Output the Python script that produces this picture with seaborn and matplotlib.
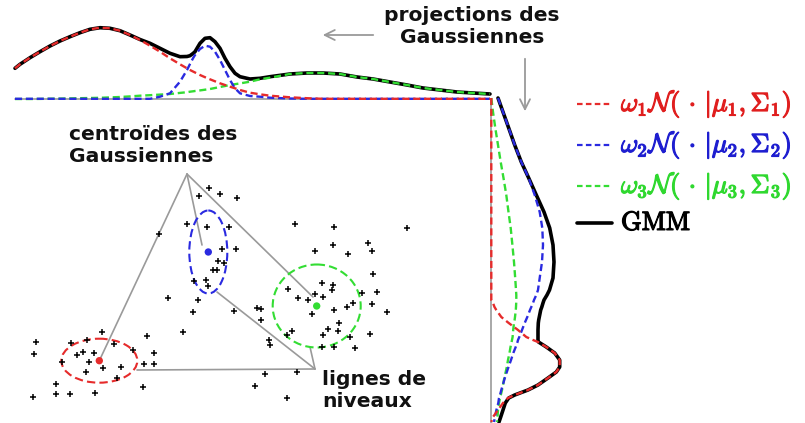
import numpy as np
import pandas as pd
import matplotlib
matplotlib.use("Agg")
import matplotlib.pyplot as plt
import matplotlib.patheffects as pe
from matplotlib.patches import Ellipse
from matplotlib.lines import Line2D
import seaborn as sns

sns.set_theme(style="white")
plt.rcParams['font.family'] = ['DejaVu Sans']
plt.rcParams['mathtext.fontset'] = 'cm'

# ---------------- data (pixel-like units) ----------------
# scatter sample
pts_x = [209.3, 199, 220, 236.7, 158.7, 187.3, 206.7, 229.3, 295, 334.3, 407.3, 221.7, 236,
         315, 332.7, 367.7, 372.3, 348.3, 218.3, 224.3, 212.7, 217.3, 373.3, 194, 205.7, 208.3,
         322.3, 333.3, 331.7, 288.3, 362.3, 376.7, 167.7, 198.3, 297.7, 308.3, 315, 323.3,
         352.7, 371.7, 347.3, 334.3, 312.3, 192.7, 234.3, 256.7, 261.3, 260.7, 387.3, 339,
         337.7, 328.3, 182.7, 291.7, 286.7, 323.3, 350, 370, 269.3, 270, 321.7, 334.3, 355,
         36, 34.3, 70.7, 87.3, 102.3, 114.3, 147.3, 133.3, 76.7, 82.7, 94.3, 62, 89.3, 103.3,
         120.7, 86, 144, 154, 154.3, 116.7, 56, 56, 70, 95, 33.3, 142.7, 265, 296.7, 255, 286.7]
pts_y = [188.3, 196, 194.3, 197.7, 234, 224.3, 227.3, 226.7, 224.3, 227.3, 228.3, 249.3, 249.3,
         250.7, 245, 242.7, 250.7, 254.3, 260.7, 263.3, 270, 270, 274, 281, 280, 286,
         282.7, 285, 290, 289, 293.3, 291.7, 297.7, 300, 297.7, 300, 294.3, 297.3,
         302.7, 304, 306.7, 310, 314, 311.7, 311, 308.3, 309, 320, 311.7, 323.3,
         331, 329.3, 331.7, 330.7, 335, 335, 336.7, 334, 340, 345, 347.3, 347.3, 348.3,
         341.7, 354, 343.3, 340, 331.7, 344.3, 336, 350, 355, 351.7, 353.3, 361.7, 361.7, 367.7,
         367.3, 372.3, 364, 353.3, 364, 378.3, 384, 394, 394, 393.3, 397.3, 386.7, 374, 372.3, 385.7, 398.3]

# Gaussian centroids and level-line sizes
comp_names = ["red", "blue", "green"]
cent_x = [99.3, 208.3, 316.7]
cent_y = [360.7, 252.0, 306.0]
ell_w = [76, 38, 88]
ell_h = [44, 83, 83]

# top projection (x positions, curve y values)
top_x = [15, 20, 30, 40, 50, 60, 70, 80, 90, 100, 110, 120, 130, 140, 150, 160, 170, 180, 187,
         190, 193, 195, 200, 205, 210, 215, 220, 225, 230, 235, 240, 250, 260, 270, 290, 307,
         323, 340, 357, 373, 390, 407, 423, 440, 457, 473, 490]
top_red = [68.3, 64.3, 57.7, 51.7, 46, 41, 36.7, 32.7, 29.3, 27.7, 28.3, 30.7, 35, 40, 45.7, 51.7,
           58.3, 64.3, 68.3, 70, 71.5, 72.5, 75, 77.2, 79.3, 81.3, 83.3, 85, 86.7, 88.3, 90, 92.7,
           94.3, 95.7, 97.3, 98.2, 98.8, 98.8, 98.8, 98.8, 98.8, 98.8, 98.8, 98.8, 98.8, 98.8, 98.8]
top_blue = [98.8, 98.8, 98.8, 98.8, 98.8, 98.8, 98.8, 98.8, 98.8, 98.8, 98.8, 98.8, 98.8, 98.8,
            98.8, 96.7, 93.3, 81.7, 70, 64, 58.3, 55, 49, 45.7, 46.7, 51.7, 60, 70, 80, 88.3, 93.3,
            96, 96.7, 97.7, 98.5, 98.8, 98.8, 98.8, 98.8, 98.8, 98.8, 98.8, 98.8, 98.8, 98.8, 98.8, 98.8]
top_green = [99, 99, 99, 98.9, 98.7, 98.6, 98.4, 98.2, 98, 97.8, 97.4, 97, 96.4, 95.7, 95.2, 94.6,
             94, 92.9, 92.2, 91.7, 91.3, 91, 90.4, 89.7, 89, 88, 87, 86, 85, 84.2, 83.4, 81.7, 79.3,
             77.7, 74, 73, 73, 74, 77, 79, 82, 85, 88, 90, 92, 93, 94]
top_gmm = [68.3, 64.3, 57.7, 51.7, 46, 41, 36.7, 32.7, 29.3, 27.7, 28.3, 30.7, 35, 39.5, 43.3, 48.3,
           53.3, 56.7, 56.5, 55.7, 53.5, 51.7, 43.3, 38.3, 37.7, 41.7, 48.3, 58.3, 66.7, 73.3, 76.7,
           79, 78.3, 76.7, 74, 73, 73, 74, 77, 79, 82, 85, 88, 90, 92, 93, 94]

# right projection (y positions, curve x values)
side_y = [98, 112, 128, 145, 162, 178, 195, 212, 228, 245, 262, 278, 290, 295, 300, 303, 307, 310,
          317, 320, 323, 330, 337, 340, 342, 347, 353, 360, 367, 372, 378, 385, 390, 395, 398, 403,
          410, 417, 422]
side_red = [491.3, 491.3, 491.3, 491.3, 491.3, 491.3, 491.3, 491.3, 491.3, 491.3, 491.3, 491.3,
            491.3, 491.3, 491.3, 493, 494.5, 496.3, 501.3, 505, 508.7, 518, 526.3, 533, 538, 546.3,
            554.7, 559.7, 559.7, 556.3, 548, 538, 528, 514.7, 508, 503, 498, 493, 491.3]
side_blue = [498, 503, 508.7, 514.7, 521.3, 528.7, 534.7, 539.7, 542.3, 543, 542, 539.7, 538, 536.3,
             534, 533, 531.3, 530, 527.3, 526, 524.7, 522, 519.3, 518, 517.5, 515.7, 513.3, 511,
             508.5, 506.8, 504.8, 502.8, 501.3, 500, 499, 498.3, 496.4, 495, 494]
side_green = [491.3, 493, 495.3, 498, 500.7, 503.5, 506.3, 508.5, 510.7, 512.4, 514, 515.2, 516,
              516.3, 516.3, 516.2, 516, 515.8, 515, 514.6, 514, 513.2, 512.6, 512, 511.6, 510.5,
              509.5, 508, 506.8, 505.7, 504.3, 503, 502, 500.8, 500, 499, 498, 497.5, 497]
side_gmm = [498, 503, 508.7, 514.7, 521.3, 528.7, 536.3, 544, 549.7, 553, 554, 553, 549.5, 547, 544,
            543, 541.8, 540.7, 539.3, 538.7, 538.3, 538, 538, 538, 538.5, 546.3, 554.7, 559.7, 559.7,
            556.3, 548, 538, 528, 514.7, 508.7, 505.3, 503, 500.7, 499]

legend_labels = [r"$\omega_1\mathcal{N}(\,\cdot\,|\mu_1,\Sigma_1)$",
                 r"$\omega_2\mathcal{N}(\,\cdot\,|\mu_2,\Sigma_2)$",
                 r"$\omega_3\mathcal{N}(\,\cdot\,|\mu_3,\Sigma_3)$",
                 r"$\mathrm{GMM}$"]

# ---------------- styling ----------------
RED, BLUE, GREEN = "#e62b2b", "#2a2ae0", "#33dd33"
LEG_COLORS = ["#e01e1e", "#1e1ed0", "#2fd82f", "black"]
GRAY = "#9a9a9a"
comp_colors = [RED, BLUE, GREEN]
DASH = (0, (3.0, 1.6))

fig = plt.figure(figsize=(8.05, 4.23), dpi=100)
ax = fig.add_axes([0, 0, 1, 1])
ax.set_xlim(0, 805)
ax.set_ylim(423, 0)
ax.axis("off")

# projection baselines
ax.plot([15, 491.3], [98.8, 98.8], color=GRAY, lw=1.2, zorder=1)
ax.plot([491.3, 491.3], [98.8, 423], color=GRAY, lw=1.2, zorder=1)

# top projection
top = pd.DataFrame({"x": top_x, "red": top_red, "blue": top_blue, "green": top_green, "gmm": top_gmm})
sns.lineplot(data=top, x="x", y="gmm", color="black", lw=2.6, sort=False, estimator=None, ax=ax, zorder=3)
for name, c in zip(["green", "blue", "red"], [GREEN, BLUE, RED]):
    sns.lineplot(data=top, x="x", y=name, color=c, lw=1.7, linestyle=DASH, sort=False,
                 estimator=None, ax=ax, zorder=4)

# right projection
side = pd.DataFrame({"y": side_y, "red": side_red, "blue": side_blue, "green": side_green, "gmm": side_gmm})
sns.lineplot(data=side, x="gmm", y="y", color="black", lw=2.6, sort=False, estimator=None, ax=ax, zorder=3)
for name, c in zip(["green", "blue", "red"], [GREEN, BLUE, RED]):
    sns.lineplot(data=side, x=name, y="y", color=c, lw=1.7, linestyle=DASH, sort=False,
                 estimator=None, ax=ax, zorder=4)

# scatter points
sns.scatterplot(x=pts_x, y=pts_y, marker="+", s=20, color="black", linewidth=1.1, ax=ax, zorder=5)

# level lines (ellipses) and centroids
for cx, cy, w, h, c in zip(cent_x, cent_y, ell_w, ell_h, comp_colors):
    ax.add_patch(Ellipse((cx, cy), w, h, fill=False, edgecolor=c, lw=1.5, linestyle=(0, (4, 2)), zorder=4))
sns.scatterplot(x=cent_x, y=cent_y, hue=comp_names, palette=comp_colors, s=28, edgecolor="none",
                legend=False, ax=ax, zorder=6)

# annotation lines
apex1 = (187, 174)
for tx, ty in [(99.3, 360.7), (202, 245), (313, 297)]:
    ax.plot([apex1[0], tx], [apex1[1], ty], color=GRAY, lw=1.2, zorder=2)
apex2 = (315, 369)
for tx, ty in [(137, 370), (217, 292), (310, 347)]:
    ax.plot([apex2[0], tx], [apex2[1], ty], color=GRAY, lw=1.2, zorder=2)

# arrows
ax.annotate("", xy=(320, 35), xytext=(376, 35),
            arrowprops=dict(arrowstyle="->", color=GRAY, lw=1.3, mutation_scale=18))
ax.annotate("", xy=(525, 114), xytext=(525, 56),
            arrowprops=dict(arrowstyle="->", color=GRAY, lw=1.3, mutation_scale=18))

# texts
bold = dict(fontweight="bold", fontsize=14.6, color="#111111", linespacing=1.22)
ax.text(472, 6, "projections des\nGaussiennes", ha="center", va="top", **bold)
ax.text(69, 125, "centroïdes des\nGaussiennes", ha="left", va="top", **bold)
ax.text(322, 370, "lignes de\nniveaux", ha="left", va="top", **bold)

# legend (manual)
leg_y = [104, 145, 186, 223]
for i, (lab, c, yy) in enumerate(zip(legend_labels, LEG_COLORS, leg_y)):
    if i < 3:
        ax.add_line(Line2D([577, 612], [yy, yy], color=comp_colors[i], lw=1.6, linestyle=(0, (2.5, 1.5))))
    else:
        ax.add_line(Line2D([577, 612], [yy, yy], color="black", lw=2.6))
    t = ax.text(621, yy, lab, color=c, fontsize=19, ha="left", va="center")
    t.set_path_effects([pe.withStroke(linewidth=0.9, foreground=c)])

fig.savefig("out.png", dpi=100)
